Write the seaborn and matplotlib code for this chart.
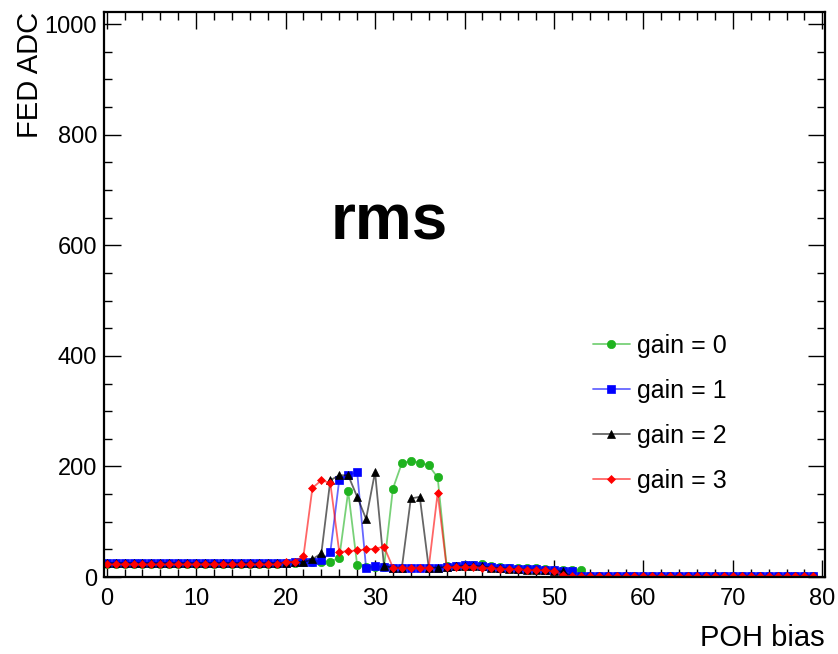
import numpy as np
import pandas as pd
import matplotlib
matplotlib.use("Agg")
import matplotlib.pyplot as plt
from matplotlib.ticker import MultipleLocator
import seaborn as sns

# POH bias scan: rms of FED ADC readout for the four gain settings
poh_bias = list(range(80))

gain0 = [24] * 20 + [
    25, 26, 27, 28, 28, 28, 35, 155, 22, 18,
    18, 18, 160, 206, 210, 207, 202, 180, 20, 20,
    21, 22, 23, 20, 18, 17, 16, 16, 17, 14,
    13, 12, 12, 12] + [1] * 26

gain1 = [26] * 20 + [
    26, 27, 27, 28, 30, 45, 176, 184, 190, 16,
    20, 18, 16, 16, 16, 16, 16, 17, 18, 20,
    22, 22, 20, 18, 17, 16, 15, 14, 14, 13,
    12, 11, 11, 2] + [1] * 26

gain2 = [25] * 20 + [
    26, 28, 27, 32, 43, 175, 184, 184, 145, 105,
    190, 20, 17, 17, 142, 145, 17, 17, 18, 19,
    20, 20, 19, 17, 16, 15, 14, 13, 13, 12,
    11, 10, 1, 1] + [1] * 26

gain3 = [23] * 20 + [
    27, 28, 38, 161, 175, 170, 45, 47, 48, 50,
    51, 55, 17, 17, 17, 17, 17, 152, 18, 18,
    18, 18, 17, 16, 15, 14, 14, 13, 13, 12,
    11, 3, 1, 1] + [1] * 26

series = [
    ("gain = 0", gain0, "#1fb31f", "o", 6.0),
    ("gain = 1", gain1, "#0000ff", "s", 5.4),
    ("gain = 2", gain2, "#000000", "^", 6.0),
    ("gain = 3", gain3, "#ff0000", "D", 3.8),
]

sns.set_style("ticks")
plt.rcParams["font.family"] = ["Liberation Sans", "DejaVu Sans"]
plt.rcParams["text.color"] = "black"
plt.rcParams["axes.labelcolor"] = "black"
plt.rcParams["xtick.color"] = "black"
plt.rcParams["ytick.color"] = "black"

fig = plt.figure(figsize=(8.38, 6.54), dpi=100)
ax = fig.add_axes([104 / 838, 1 - 577 / 654, 721 / 838, 565 / 654])

handles = []
for label, values, color, marker, msize in series:
    df = pd.DataFrame({"POH bias": poh_bias, "FED ADC": values})
    rgba = matplotlib.colors.to_rgba(color, 0.6)
    sns.lineplot(data=df, x="POH bias", y="FED ADC", ax=ax, color=rgba,
                 linewidth=1.3, marker=marker, markersize=msize,
                 markerfacecolor=color, markeredgecolor=color,
                 markeredgewidth=0.5, legend=False)
    handles.append(ax.lines[-1])

ax.set_xlim(-0.3, 80.3)
ax.set_ylim(0, 1022)
ax.xaxis.set_major_locator(MultipleLocator(10))
ax.xaxis.set_minor_locator(MultipleLocator(2))
ax.yaxis.set_major_locator(MultipleLocator(200))
ax.yaxis.set_minor_locator(MultipleLocator(50))
ax.tick_params(which="both", direction="in", top=True, right=True,
               color="black", labelcolor="black", width=1.0, labelsize=17)
ax.tick_params(which="major", length=12.5)
ax.tick_params(which="minor", length=5.8)
ax.tick_params(axis="x", pad=8)
ax.tick_params(axis="y", pad=5)
for sp in ax.spines.values():
    sp.set_linewidth(1.6)
    sp.set_color("black")

ax.set_xlabel("POH bias", fontsize=21, loc="right", color="black")
ax.xaxis.set_label_coords(1.0, -0.084)
ax.set_ylabel("FED ADC", fontsize=21, loc="top", color="black")
ax.yaxis.set_label_coords(-0.083, 1.0)

fig.text(389 / 838, 1 - 240 / 654, "rms", fontsize=46, fontweight="bold",
         ha="center", va="baseline", color="black")

leg = ax.legend(handles, [s[0] for s in series], loc="upper left",
                bbox_to_anchor=(593 / 838, 1 - 334 / 654),
                bbox_transform=fig.transFigure, frameon=False, fontsize=18,
                handlelength=1.47, handletextpad=0.3, labelspacing=0.84,
                borderpad=0, borderaxespad=0)
for t in leg.get_texts():
    t.set_color("black")

fig.savefig("out.png", dpi=100)
